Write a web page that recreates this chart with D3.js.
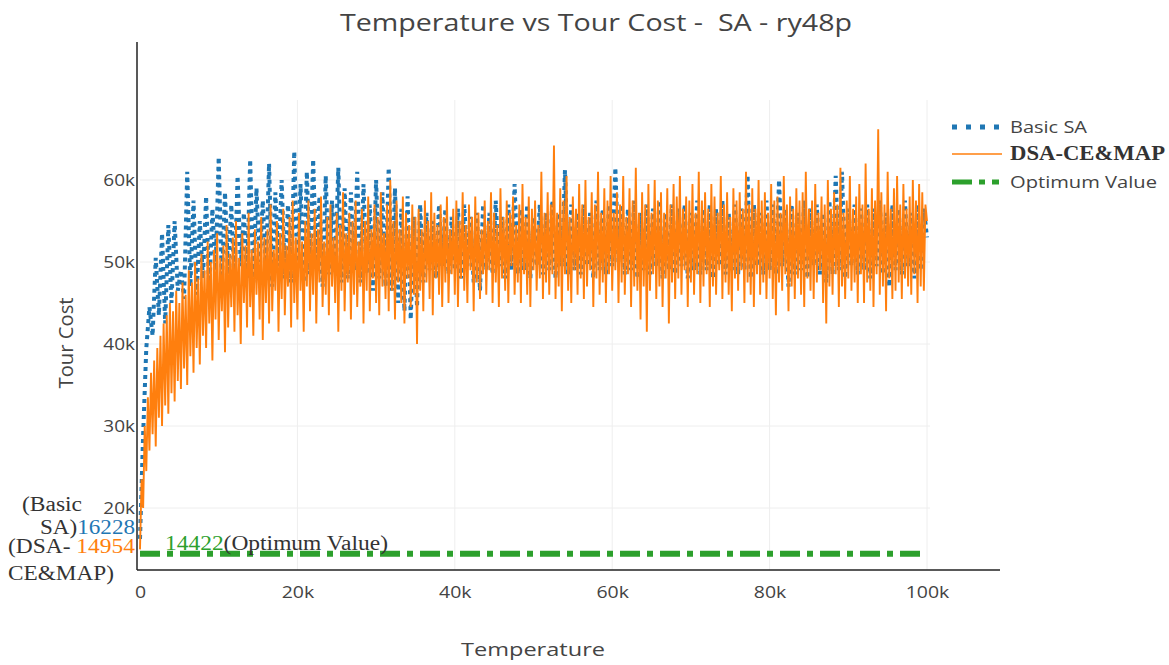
<!DOCTYPE html>
<html>
<head>
<meta charset="utf-8">
<script src="https://cdn.jsdelivr.net/npm/d3@7"></script>
<style>
  body { margin: 0; background: #fff; }
  text { font-family: "Open Sans", verdana, arial, sans-serif; fill: #444; }
  text.serif { font-family: "Liberation Serif", "Times New Roman", serif; fill: #333; }
</style>
</head>
<body>
<script>
// temperature step between samples
const saStep = 400;
const dsaStep = 200;

// Basic SA tour cost, one value every saStep
const basicSA = [
  16228, 29000, 39500, 44500, 41000, 50500, 43500, 53500, 42500, 54500,
  45000, 55000, 46500, 49000, 45500, 61000, 47000, 57500, 46000, 55000,
  48000, 58000, 46500, 56500, 49000, 62800, 47500, 58500, 48500, 57000,
  47000, 60500, 49500, 56000, 48000, 62500, 47500, 59000, 50000, 57500,
  48500, 62000, 47000, 58500, 49500, 60000, 48000, 57000, 47500, 63500,
  49000, 59500, 47500, 61000, 48500, 62500, 50000, 58000, 47000, 60500,
  48500, 57500, 49500, 61500, 47500, 59000, 48000, 58500, 49000, 61000,
  47500, 59500, 48500, 57000, 46500, 60000, 48000, 58500, 47000, 61500,
  46500, 59000, 45000, 56500, 44000, 58000, 43000, 55500, 44500, 57000,
  47500, 56000, 49000, 55000, 48000, 57000, 49500, 56500, 48500, 55500,
  49000, 56500, 48000, 57000, 49500, 55500, 47500, 56000, 46500, 57000,
  49000, 56000, 48500, 57500, 49500, 55500, 48000, 57000, 49000, 59500,
  48500, 56500, 49000, 57000, 48000, 55500, 49500, 57000, 48500, 56000,
  49000, 57500, 48000, 56000, 49500, 61200, 48500, 57000, 49000, 56000,
  48500, 57000, 49500, 56000, 48000, 57500, 49000, 56500, 48500, 57000,
  49500, 61500, 50000, 57000, 48500, 56500, 49000, 57500, 48000, 56000,
  49000, 57000, 48500, 56500, 49500, 57500, 48000, 56000, 49000, 57000,
  48500, 56500, 49500, 57000, 48000, 56000, 49000, 57500, 48500, 56500,
  49000, 57000, 48000, 56500, 49500, 57500, 48500, 56000, 49000, 57000,
  48500, 56500, 49000, 60600, 48000, 57000, 49500, 56000, 48500, 57500,
  49000, 57000, 48500, 60000, 49500, 56500, 47000, 57000, 48500, 56000,
  49000, 57500, 48000, 56500, 49500, 57000, 48500, 56000, 47500, 57500,
  48500, 60500, 49000, 61000, 48000, 56500, 49500, 57000, 48500, 56500,
  49000, 57000, 48000, 56500, 49500, 57500, 48500, 56000, 47000, 57000,
  49000, 56500, 48500, 57500, 49500, 56000, 48000, 57000, 49000, 56500,
  53000
];

// DSA-CE&MAP tour cost, one value every dsaStep
const dsaCost = [
  14954, 23500, 20000, 30000, 24500, 33500, 27000, 36500, 29000, 38000, 27500, 39500, 31000, 41000, 30000, 42500, 32500, 43500, 31500, 45000,
  34000, 44000, 33000, 46500, 35500, 45000, 34500, 47500, 37000, 46000, 35000, 49000, 38500, 47500, 36500, 50000, 39500, 48000, 37500, 51000,
  41000, 49000, 39500, 52500, 42500, 50000, 38000, 51500, 43000, 53500, 40500, 50500, 44000, 52000, 39000, 54500, 42000, 51000, 44500, 53000,
  41500, 55000, 43500, 50500, 40000, 53500, 45000, 52000, 42000, 56000, 44500, 51500, 41000, 54000, 46000, 52500, 43000, 55500, 40500, 53000,
  45000, 54000, 42500, 57000, 44000, 51500, 46500, 55000, 41500, 53500, 45500, 56500, 43500, 52000, 47000, 55500, 42000, 57500, 45000, 53000,
  43000, 56000, 46500, 52500, 41500, 55000, 47000, 57500, 44000, 53500, 46000, 56500, 42500, 54000, 47500, 58000, 44500, 52500, 46000, 55500,
  43500, 57000, 47000, 53000, 45000, 56000, 41500, 54500, 46500, 58500, 44000, 53500, 47500, 56000, 43000, 55000, 46000, 57500, 44500, 52500,
  47000, 56500, 42500, 55000, 46500, 58000, 44000, 54000, 48000, 57000, 45000, 55500, 43500, 58500, 47000, 53500, 45500, 57000, 44000, 60000,
  46500, 55000, 43000, 57500, 47500, 54000, 45000, 58000, 42500, 56000, 48000, 54500, 44500, 57000, 46000, 55500, 40000, 56500, 46500, 54000,
  44000, 57500, 47500, 55000, 45500, 58500, 43500, 56000, 48000, 54500, 46000, 57000, 44500, 55500, 47500, 58000, 45000, 54000, 48500, 56500,
  46000, 57500, 44500, 55000, 48000, 58500, 46500, 54500, 45000, 57000, 49000, 55500, 44000, 58000, 47500, 56000, 45500, 54000, 48500, 57500,
  46000, 55000, 49000, 58500, 45000, 56000, 47500, 54500, 44500, 59000, 48000, 55500, 46500, 57500, 45000, 56000, 49500, 58000, 46000, 54500,
  47500, 57000, 45000, 59500, 48500, 55500, 46000, 58000, 44500, 56500, 49000, 57500, 46500, 54500, 48000, 61000, 45500, 56000, 47500, 58500,
  46000, 57000, 48500, 64200, 45500, 56000, 47000, 59000, 44000, 57500, 48500, 60500, 46500, 55500, 45000, 58000, 49000, 56500, 46000, 59500,
  48000, 57000, 45500, 60000, 47000, 55500, 49000, 58500, 44500, 57000, 48000, 61000, 46000, 56000, 47500, 59000, 45000, 57500, 48500, 60500,
  46500, 56000, 49000, 58500, 45000, 57000, 47500, 60500, 46000, 55500, 48500, 59000, 44500, 57500, 47000, 61500, 46500, 56000, 43000, 58500,
  47000, 57000, 41500, 59500, 46500, 56000, 48500, 60000, 45500, 57500, 47000, 58500, 44500, 56000, 48000, 59000, 42500, 57000, 47500, 59500,
  45500, 58000, 48000, 60500, 46000, 56500, 49000, 58000, 44500, 57500, 47500, 59500, 46000, 56000, 48500, 61000, 45000, 57500, 47000, 58500,
  48500, 56500, 44500, 59500, 47000, 58000, 46000, 56000, 49000, 60500, 45500, 57000, 47500, 58500, 46000, 55500, 44000, 59000, 48000, 57500,
  46500, 58500, 49000, 56500, 45000, 61000, 47500, 57000, 46000, 59000, 44500, 56500, 48500, 60000, 46000, 57500, 47500, 58500, 45500, 56000,
  48000, 59500, 45500, 57500, 43500, 58000, 47500, 56000, 46500, 60500, 48500, 57000, 44000, 58000, 47000, 56500, 45500, 59000, 48000, 57500,
  46000, 58500, 44500, 61000, 48000, 56500, 46500, 57500, 45500, 59500, 47500, 56000, 49000, 58000, 45000, 57000, 42500, 60000, 47000, 56500,
  46000, 58500, 48500, 57000, 44500, 61500, 47000, 56000, 45500, 57500, 48000, 60500, 46500, 56500, 47500, 58000, 45000, 59500, 48500, 57000,
  45000, 62000, 47500, 56500, 46500, 59000, 44500, 57500, 48500, 66200, 46000, 58500, 47000, 57000, 44000, 61000, 48000, 56500, 45500, 59000,
  46500, 60500, 47500, 57000, 45500, 59500, 48000, 56500, 47000, 58000, 46000, 60000, 48500, 57500, 45000, 59500, 47000, 58500, 46500, 57000,
  55000
];

const optimumValue = 14422;
const optimumRange = [0, 100000];

const xTicks = [0, 20000, 40000, 60000, 80000, 100000];
const yTicks = [20000, 30000, 40000, 50000, 60000];

const width = 1169;
const height = 665;

const svg = d3.select("body")
              .append("svg")
              .attr("width", width)
              .attr("height", height);

const xScale = d3.scaleLinear()
                 .domain([0, 100000])
                 .range([140, 927]);

const yScale = d3.scaleLinear()
                 .domain([20000, 60000])
                 .range([508, 180]);

const fmt = d => d === 0 ? "0" : (d / 1000) + "k";

// the picture is a bit wider than tall, so text is stretched
function stretch(sel, k) {
  sel.each(function() {
    const w = this.getComputedTextLength();
    d3.select(this).attr("textLength", w * k).attr("lengthAdjust", "spacingAndGlyphs");
  });
}
function fit(sel, w) {
  sel.attr("textLength", w).attr("lengthAdjust", "spacingAndGlyphs");
}

// grid
svg.append("g")
  .selectAll("line")
  .data(yTicks)
  .enter()
  .append("line")
  .attr("x1", 140).attr("x2", 930)
  .attr("y1", d => yScale(d)).attr("y2", d => yScale(d))
  .attr("stroke", "#eee");

svg.append("g")
  .selectAll("line")
  .data(xTicks.slice(1))
  .enter()
  .append("line")
  .attr("x1", d => xScale(d)).attr("x2", d => xScale(d))
  .attr("y1", 100).attr("y2", 570)
  .attr("stroke", "#eee");

// tick labels
const yAxis = svg.append("g")
  .attr("transform", "translate(137,0)")
  .call(d3.axisLeft(yScale).tickValues(yTicks).tickFormat(fmt).tickSize(0).tickPadding(2));
yAxis.select(".domain").remove();
yAxis.selectAll("text").style("font-size", "16.5px").attr("fill", "#444");
stretch(yAxis.selectAll("text"), 1.15);

const xAxis = svg.append("g")
  .attr("transform", "translate(0,583)")
  .call(d3.axisBottom(xScale).tickValues(xTicks).tickFormat(fmt).tickSize(0));
xAxis.select(".domain").remove();
xAxis.selectAll("text").style("font-size", "16.5px").attr("fill", "#444");
stretch(xAxis.selectAll("text"), 1.18);

// lines
svg.append("path")
  .datum(basicSA)
  .attr("d", d3.line().x((d, i) => xScale(i * saStep)).y(d => yScale(d)))
  .attr("fill", "none")
  .attr("stroke", "#1f77b4")
  .attr("stroke-width", 4)
  .attr("stroke-dasharray", "4,4");

svg.append("path")
  .datum(dsaCost)
  .attr("d", d3.line().x((d, i) => xScale(i * dsaStep)).y(d => yScale(d)))
  .attr("fill", "none")
  .attr("stroke", "#ff7f0e")
  .attr("stroke-width", 1.9);

svg.append("line")
  .attr("x1", xScale(optimumRange[0])).attr("x2", xScale(optimumRange[1]))
  .attr("y1", yScale(optimumValue)).attr("y2", yScale(optimumValue))
  .attr("stroke", "#2ca02c")
  .attr("stroke-width", 6)
  .attr("stroke-dasharray", "20,7,6,7");

// black axis lines
svg.append("line")
  .attr("x1", 137).attr("x2", 137).attr("y1", 42).attr("y2", 570)
  .attr("stroke", "#222").attr("stroke-width", 1.5);
svg.append("line")
  .attr("x1", 137).attr("x2", 1000).attr("y1", 570).attr("y2", 570)
  .attr("stroke", "#222").attr("stroke-width", 1.5);

// titles
svg.append("text")
  .attr("x", 596).attr("y", 31)
  .attr("text-anchor", "middle")
  .attr("xml:space", "preserve")
  .style("white-space", "pre")
  .style("font-size", "24px")
  .text("Temperature vs Tour Cost -  SA - ry48p")
  .call(fit, 512);

svg.append("text")
  .attr("transform", "translate(73,343) rotate(-90)")
  .attr("text-anchor", "middle")
  .style("font-size", "20px")
  .text("Tour Cost")
  .call(fit, 91);

svg.append("text")
  .attr("x", 533).attr("y", 656)
  .attr("text-anchor", "middle")
  .style("font-size", "19px")
  .text("Temperature")
  .call(fit, 144);

// annotations on the left
const ann = svg.append("g").style("font-size", "20px");
ann.append("text").attr("class", "serif").attr("x", 22).attr("y", 511)
  .text("(Basic").call(fit, 60);
const a2 = ann.append("text").attr("class", "serif").attr("x", 40).attr("y", 534)
  .attr("xml:space", "preserve");
a2.append("tspan").text("SA)");
a2.append("tspan").style("fill", "#1f77b4").text(basicSA[0]);
a2.call(fit, 95);
const a3 = ann.append("text").attr("class", "serif").attr("x", 8).attr("y", 553)
  .attr("xml:space", "preserve").style("white-space", "pre");
a3.append("tspan").text("(DSA- ");
a3.append("tspan").style("fill", "#ff7f0e").text(dsaCost[0]);
a3.call(fit, 127);
ann.append("text").attr("class", "serif").attr("x", 8).attr("y", 580)
  .text("CE&MAP)").call(fit, 106);
const a4 = ann.append("text").attr("class", "serif").attr("x", 165).attr("y", 550);
a4.append("tspan").style("fill", "#2ca02c").text(optimumValue);
a4.append("tspan").text("(Optimum Value)");
a4.call(fit, 223);

// legend
const legend = svg.append("g");
legend.append("line")
  .attr("x1", 952).attr("x2", 1000).attr("y1", 127).attr("y2", 127)
  .attr("stroke", "#1f77b4").attr("stroke-width", 5).attr("stroke-dasharray", "5,9");
legend.append("line")
  .attr("x1", 952).attr("x2", 1002).attr("y1", 154).attr("y2", 154)
  .attr("stroke", "#ff7f0e").attr("stroke-width", 1.5);
legend.append("line")
  .attr("x1", 952).attr("x2", 999).attr("y1", 182).attr("y2", 182)
  .attr("stroke", "#2ca02c").attr("stroke-width", 5).attr("stroke-dasharray", "20,7,6,7");
legend.append("text").attr("x", 1010).attr("y", 133).style("font-size", "16.5px")
  .text("Basic SA").call(fit, 77);
legend.append("text").attr("class", "serif").attr("x", 1010).attr("y", 160)
  .style("font-size", "20px").style("font-weight", "bold").text("DSA-CE&MAP").call(fit, 155);
legend.append("text").attr("x", 1010).attr("y", 188).style("font-size", "16.5px")
  .text("Optimum Value").call(fit, 147);
</script>
</body>
</html>
